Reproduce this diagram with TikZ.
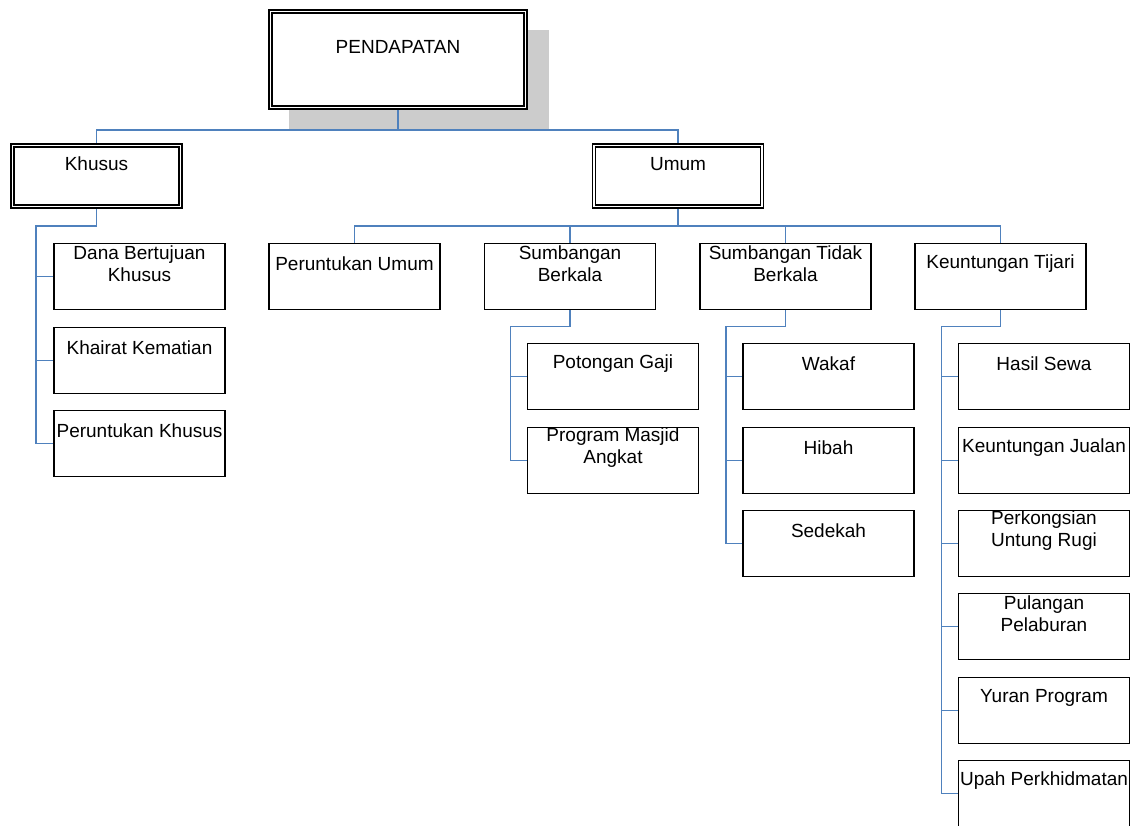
\documentclass[tikz,border=0pt]{standalone}
\usepackage{fontspec}
\setmainfont{Liberation Sans}
\usetikzlibrary{backgrounds}
\definecolor{linkblue}{RGB}{79,129,189}
\definecolor{shadowgray}{RGB}{204,204,204}

\begin{document}
\begin{tikzpicture}[x=1pt, y=-1pt,
  box/.style={draw=black, line width=1.8pt, fill=white, inner sep=0pt, minimum width=171pt, minimum height=66pt},
  dbox/.style={draw=black, double, double distance=1.6pt, line width=1.3pt, fill=white, inner sep=0pt},
  txt/.style={font=\fontsize{19}{21.7}\selectfont, align=center, inner sep=0pt},
  link/.style={draw=linkblue, line width=1.7pt}]
\useasboundingbox (0,0) rectangle (1132,825);

% root
\node[dbox, minimum width=255pt, minimum height=96pt] (pd) at (398,59.5) {};
\node[txt] (pd-t) at ([yshift=-36pt]pd.north) {PENDAPATAN};

% level 1
\node[dbox, minimum width=168pt, minimum height=61pt] (kh) at (96.5,176) {};
\node[txt] (kh-t) at ([yshift=-19pt]kh.north) {Khusus};
\node[dbox, minimum width=168pt, minimum height=61pt] (um) at (678,176) {};
\node[txt] (um-t) at ([yshift=-19pt]um.north) {Umum};

% under Khusus
\node[box] (dbk) at (139.5,276.5) {};
\node[txt] (dbk-t) at ([yshift=-21pt]dbk.north) {Dana Bertujuan\\Khusus};
\node[box] (kk) at (139.5,360.5) {};
\node[txt] (kk-t) at ([yshift=-21pt]kk.north) {Khairat Kematian};
\node[box] (pk) at (139.5,443.5) {};
\node[txt] (pk-t) at ([yshift=-21pt]pk.north) {Peruntukan Khusus};

% under Umum
\node[box] (pu) at (354.5,276.5) {};
\node[txt] (pu-t) at ([yshift=-21pt]pu.north) {Peruntukan Umum};
\node[box] (sb) at (570,276.5) {};
\node[txt] (sb-t) at ([yshift=-21pt]sb.north) {Sumbangan\\Berkala};
\node[box] (stb) at (785.5,276.5) {};
\node[txt] (stb-t) at ([yshift=-21pt]stb.north) {Sumbangan Tidak\\Berkala};
\node[box] (kt) at (1000.5,276.5) {};
\node[txt] (kt-t) at ([yshift=-21pt]kt.north) {Keuntungan Tijari};

% Sumbangan Berkala
\node[box] (pg) at (613,376.5) {};
\node[txt] (pg-t) at ([yshift=-21pt]pg.north) {Potongan Gaji};
\node[box] (pma) at (613,460.5) {};
\node[txt] (pma-t) at ([yshift=-21pt]pma.north) {Program Masjid\\Angkat};

% Sumbangan Tidak Berkala
\node[box] (wk) at (828.5,376.5) {};
\node[txt] (wk-t) at ([yshift=-21pt]wk.north) {Wakaf};
\node[box] (hb) at (828.5,460.5) {};
\node[txt] (hb-t) at ([yshift=-21pt]hb.north) {Hibah};
\node[box] (sd) at (828.5,543.5) {};
\node[txt] (sd-t) at ([yshift=-21pt]sd.north) {Sedekah};

% Keuntungan Tijari
\node[box] (hs) at (1044,376.5) {};
\node[txt] (hs-t) at ([yshift=-21pt]hs.north) {Hasil Sewa};
\node[box] (kj) at (1044,460.5) {};
\node[txt] (kj-t) at ([yshift=-21pt]kj.north) {Keuntungan Jualan};
\node[box] (pur) at (1044,543.5) {};
\node[txt] (pur-t) at ([yshift=-21pt]pur.north) {Perkongsian\\Untung Rugi};
\node[box] (pp) at (1044,626.5) {};
\node[txt] (pp-t) at ([yshift=-21pt]pp.north) {Pulangan\\Pelaburan};
\node[box] (yp) at (1044,710.5) {};
\node[txt] (yp-t) at ([yshift=-21pt]yp.north) {Yuran Program};
\node[box] (uph) at (1044,793.5) {};
\node[txt] (uph-t) at ([yshift=-21pt]uph.north) {Upah Perkhidmatan};

\begin{scope}[on background layer]
\fill[shadowgray] (289,30) rectangle (549,130);

\draw[link] (pd.south) -- ++(0,22) -| (kh.north);
\draw[link] (pd.south) -- ++(0,22) -| (um.north);

\draw[link] (kh.south) -- ++(0,19) -| ([xshift=-17pt]dbk.west) -- (dbk.west);
\draw[link] (kh.south) -- ++(0,19) -| ([xshift=-17pt]kk.west) -- (kk.west);
\draw[link] (kh.south) -- ++(0,19) -| ([xshift=-17pt]pk.west) -- (pk.west);

\draw[link] (um.south) -- ++(0,19) -| (pu.north);
\draw[link] (um.south) -- ++(0,19) -| (sb.north);
\draw[link] (um.south) -- ++(0,19) -| (stb.north);
\draw[link] (um.south) -- ++(0,19) -| (kt.north);

\draw[link] (sb.south) -- ++(0,16) -| ([xshift=-16pt]pg.west) -- (pg.west);
\draw[link] (sb.south) -- ++(0,16) -| ([xshift=-16pt]pma.west) -- (pma.west);

\draw[link] (stb.south) -- ++(0,16) -| ([xshift=-16pt]wk.west) -- (wk.west);
\draw[link] (stb.south) -- ++(0,16) -| ([xshift=-16pt]hb.west) -- (hb.west);
\draw[link] (stb.south) -- ++(0,16) -| ([xshift=-16pt]sd.west) -- (sd.west);

\draw[link] (kt.south) -- ++(0,16) -| ([xshift=-16pt]hs.west) -- (hs.west);
\draw[link] (kt.south) -- ++(0,16) -| ([xshift=-16pt]kj.west) -- (kj.west);
\draw[link] (kt.south) -- ++(0,16) -| ([xshift=-16pt]pur.west) -- (pur.west);
\draw[link] (kt.south) -- ++(0,16) -| ([xshift=-16pt]pp.west) -- (pp.west);
\draw[link] (kt.south) -- ++(0,16) -| ([xshift=-16pt]yp.west) -- (yp.west);
\draw[link] (kt.south) -- ++(0,16) -| ([xshift=-16pt]uph.west) -- (uph.west);
\end{scope}

\end{tikzpicture}
\end{document}
